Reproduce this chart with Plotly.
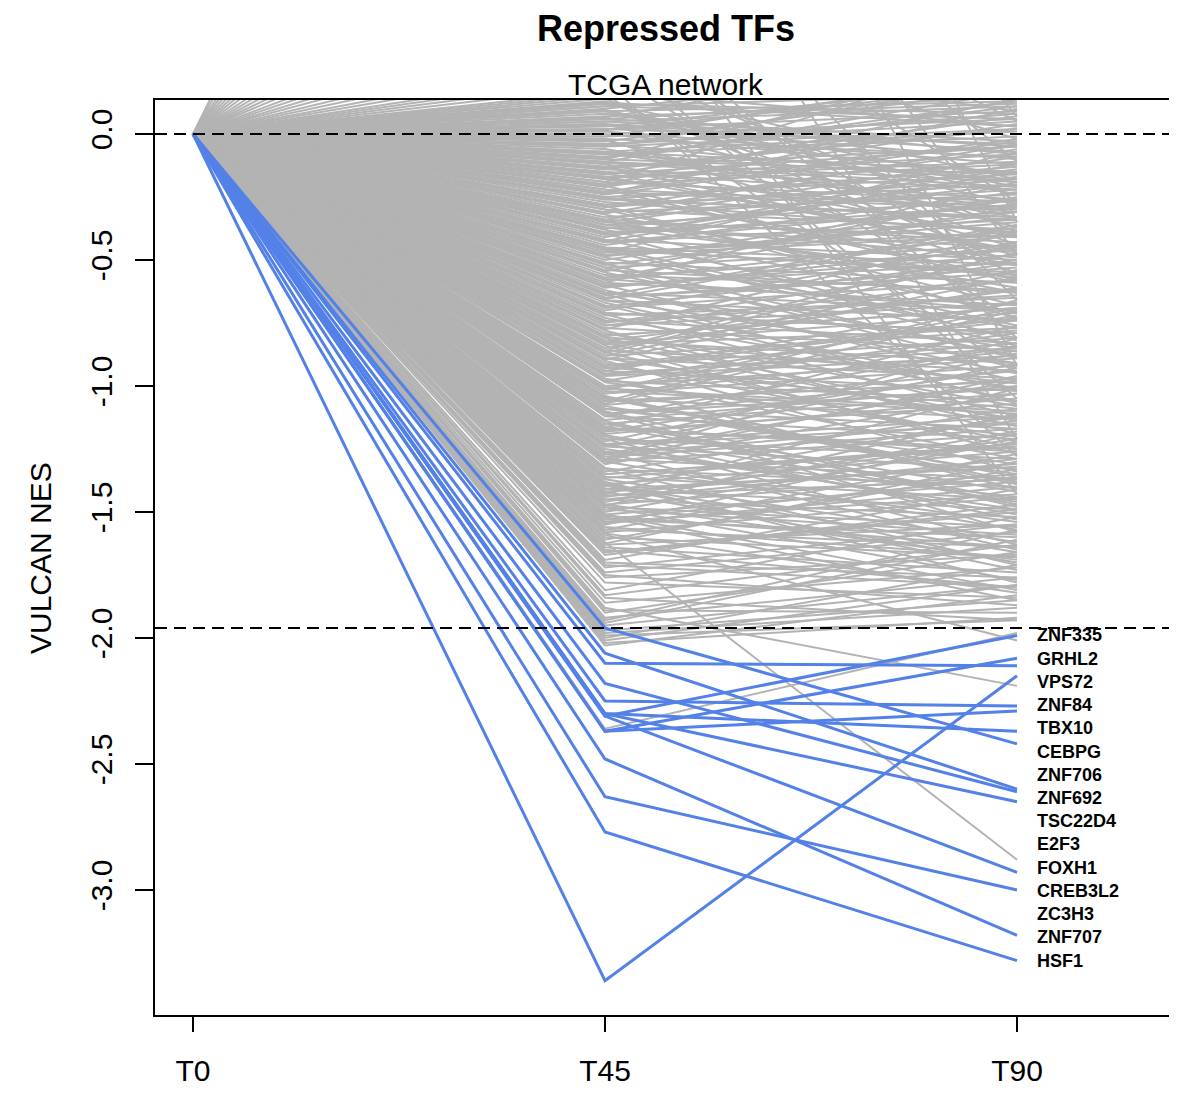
import numpy as np
import plotly.graph_objects as go

# ---------------- data ----------------
time_labels = ["T0", "T45", "T90"]

tf_names = ["ZNF335", "GRHL2", "VPS72", "ZNF84", "TBX10", "CEBPG", "ZNF706", "ZNF692",
            "TSC22D4", "E2F3", "FOXH1", "CREB3L2", "ZC3H3", "ZNF707", "HSF1"]
tf_t0 = [0.0] * 15
tf_t45 = [-2.31, -2.37, -2.10, -3.36, -2.25, -2.37, -2.30, -1.96,
          -2.06, -2.18, -2.30, -2.31, -2.63, -2.48, -2.77]
tf_t90 = [-1.99, -2.08, -2.11, -2.15, -2.27, -2.29, -2.37, -2.42,
          -2.60, -2.61, -2.65, -2.93, -3.00, -3.18, -3.28]

grey_t45 = [
    3.31, 2.87, 2.46, 2.18, 1.93, 1.71, 1.52, 1.36, 1.21, 1.07,
    0.96, 0.86, 0.77, 0.69, 0.61, 0.55, 0.49, 0.44, 0.39, 0.35,
    0.31, 0.28, 0.25, 0.23, 0.21, 0.19, 0.17, 0.16, 0.15, 0.14,
    0.12, -0.03, -0.17, -0.41, -0.62, -0.85, -1.04, -1.22, -1.37, -1.55,
    0.10, -0.06, -0.21, -0.38, -0.57, -0.79, -0.98, -1.16, -1.31, -1.48,
    0.08, -0.09, -0.25, -0.44, -0.66, -0.88, -1.09, -1.27, -1.42, -1.61,
    0.06, -0.12, -0.29, -0.49, -0.70, -0.91, -1.12, -1.30, -1.46, -1.66,
    0.04, -0.14, -0.32, -0.52, -0.73, -0.94, -1.15, -1.34, -1.51, -1.72,
    0.02, -0.15, -0.35, -0.55, -0.76, -0.97, -1.18, -1.39, -1.57, -1.78,
    0.00, -0.19, -0.36, -0.59, -0.81, -1.01, -1.20, -1.40, -1.59, -1.83,
    0.11, -0.02, -0.23, -0.46, -0.64, -0.83, -1.06, -1.25, -1.44, -1.64,
    0.09, -0.05, -0.27, -0.47, -0.68, -0.87, -1.08, -1.29, -1.49, -1.69,
    0.07, -0.08, -0.30, -0.50, -0.71, -0.90, -1.11, -1.33, -1.53, -1.75,
    0.05, -0.10, -0.33, -0.53, -0.75, -0.93, -1.14, -1.35, -1.56, -1.81,
    0.03, -0.13, -0.34, -0.56, -0.78, -0.96, -1.17, -1.38, -1.58, -1.86,
    0.01, -0.16, -0.37, -0.58, -0.80, -1.00, -1.19, -1.41, -1.62, -1.89,
    -0.01, -0.18, -0.40, -0.60, -0.82, -1.02, -1.21, -1.43, -1.63, -1.92,
    -0.04, -0.20, -0.42, -0.61, -0.84, -1.03, -1.23, -1.45, -1.65, -1.94,
    -0.07, -0.22, -0.43, -0.63, -0.86, -1.05, -1.24, -1.47, -1.67, -1.97,
    -0.11, -0.24, -0.45, -0.65, -0.89, -1.07, -1.26, -1.50, -1.70, -1.99,
    0.13, -0.26, -0.48, -0.67, -0.92, -1.10, -1.28, -1.52, -1.74, -2.01,
    0.125, 0.095, 0.065, 0.035, 0.015, -0.025, -0.045, -0.075, -0.095, -0.115,
    -0.135, -0.155, -0.175, -0.205, -0.235, -0.255, -0.285, -0.315, -0.345, -0.375,
    -0.395, -0.425, -0.455, -0.485, -0.515, -0.545, -0.575, -0.605, -0.635, -0.655,
    -0.685, -0.715, -0.745, -0.775, -0.805, -0.835, -0.865, -0.895, -0.925, -0.955,
    -0.985, -1.015, -1.045, -1.075, -1.105, -1.135, -1.165, -1.195, -1.235, -1.265,
    -1.295, -1.325, -1.365, -1.395, -1.435, -1.475, -1.515, -1.545, -1.585, -1.625,
    -1.88, -1.98, -2.00, -2.02, -2.03, -2.36, -1.90, -1.95, -1.84, -1.93,
    0.12, 0.05, -0.02, -0.08, -0.14, -0.20, -0.26, -0.31, -0.37, -0.43,
    -0.48, -0.54, -0.60, -0.66, -0.72, -0.77, -0.83, -0.89, -0.95, -1.01,
    -1.06, -1.12, -1.18, -1.24, -1.30, -1.36, -1.42, -1.48, -1.54, -1.60,
    0.09, 0.02, -0.05, -0.11, -0.17, -0.23, -0.29, -0.35, -0.40, -0.46,
    -0.51, -0.57, -0.63, -0.69, -0.74, -0.80, -0.86, -0.92, -0.98, -1.03,
    -1.09, -1.15, -1.21, -1.27, -1.33, -1.39, -1.45, -1.51, -1.57, -1.66,
    0.06, -0.01, -0.07, -0.13, -0.19, -0.25, -0.30, -0.36, -0.42, -0.47,
    -0.53, -0.59, -0.65, -0.71, -0.76, -0.82, -0.88, -0.94, -1.00, -1.05,
    -1.11, -1.17, -1.23, -1.29, -1.35, -1.41, -1.47, -1.53, -1.71, -1.76,
    0.11, 0.04, -0.04, -0.10, -0.16, -0.22, -0.28, -0.34, -0.39, -0.45,
]
grey_t90 = [
    0.42, -0.35, 0.18, -0.92, 0.07, -0.48, 0.25, -1.21, -0.11, 0.31,
    -0.66, 0.05, -0.27, -1.43, 0.14, -0.81, -0.02, 0.22, -0.57, -1.05,
    0.09, -0.39, -0.74, 0.16, -1.28, -0.18, 0.03, -0.95, 0.38, -0.52,
    -0.21, 0.18, -0.46, -0.12, -0.95, -0.61, -1.38, -0.87, -1.62, -1.19,
    0.27, -0.33, 0.04, -0.71, -0.29, -1.08, -0.72, -1.45, -1.03, -1.77,
    -0.08, 0.11, -0.52, -0.23, -0.91, -0.54, -1.31, -0.98, -1.70, -1.33,
    0.15, -0.41, -0.06, -0.77, -0.43, -1.22, -0.84, -1.57, -1.18, -1.49,
    -0.37, 0.02, -0.63, -0.31, -1.01, -0.67, -1.42, -1.09, -1.81, -1.55,
    0.09, -0.26, -0.14, -0.88, -0.58, -1.29, -0.93, -1.66, -1.27, -1.84,
    -0.16, 0.33, -0.49, -0.19, -1.14, -0.79, -1.53, -1.12, -2.01, -1.63,
    0.06, -0.55, -0.02, -0.84, -0.36, -1.16, -0.66, -1.49, -1.21, -1.74,
    -0.28, 0.21, -0.39, -0.07, -1.06, -0.47, -1.35, -0.81, -1.59, -1.41,
    0.12, -0.18, -0.68, -0.26, -0.79, -1.34, -0.97, -1.71, -1.36, -1.87,
    -0.05, 0.29, -0.22, -0.93, -0.51, -0.74, -1.47, -1.24, -1.68, -1.52,
    0.20, -0.48, -0.09, -0.62, -1.19, -0.88, -1.26, -1.78, -1.44, -1.72,
    -0.12, 0.07, -0.57, -0.40, -0.69, -1.41, -1.05, -1.32, -2.88, -1.90,
    0.24, -0.31, -0.17, -0.98, -0.62, -1.11, -1.63, -1.01, -1.55, -1.76,
    -0.19, 0.14, -0.76, -0.45, -1.27, -0.86, -1.51, -1.29, -1.80, -1.61,
    0.01, -0.59, -0.28, -0.85, -0.44, -1.36, -0.91, -1.69, -1.47, -1.85,
    0.17, -0.03, -0.81, -0.53, -1.13, -0.70, -1.44, -1.22, -1.76, -1.93,
    -0.44, -0.13, -0.35, -1.02, -0.73, -1.48, -1.17, -1.85, -1.58, -1.79,
    0.03, -0.24, 0.35, -0.10, 0.19, -0.45, 0.08, -0.30, 0.13, -0.21,
    0.02, -0.47, -0.11, -0.58, 0.10, -0.34, -0.73, -0.04, -0.61, -0.20,
    -0.82, -0.15, -0.56, -0.33, -0.89, -0.25, -0.70, -0.48, -1.07, -0.37,
    -0.50, -1.12, -0.64, -0.39, -0.99, -0.77, -1.25, -0.57, -1.09, -0.83,
    -1.20, -0.69, -1.39, -0.94, -1.58, -1.00, -0.76, -1.46, -1.15, -1.65,
    -0.96, -1.54, -1.23, -1.73, -1.37, -1.11, -1.64, -1.40, -1.82, -1.30,
    -2.19, -1.88, -1.71, -1.92, -1.83, -1.98, -1.66, -1.79, -1.93, -1.57,
    0.08, 0.11, -0.09, -0.01, -0.22, -0.12, -0.33, -0.24, -0.45, -0.34,
    -0.40, -0.63, -0.51, -0.74, -0.65, -0.86, -0.71, -0.97, -0.85, -1.10,
    -0.98, -1.21, -1.07, -1.33, -1.19, -1.45, -1.31, -1.56, -1.43, -1.68,
    0.13, -0.04, 0.02, -0.19, -0.08, -0.30, -0.18, -0.41, -0.28, -0.55,
    -0.59, -0.46, -0.70, -0.58, -0.83, -0.69, -0.94, -0.81, -1.06, -0.92,
    -1.17, -1.03, -1.29, -1.14, -1.40, -1.26, -1.52, -1.38, -1.64, -1.50,
    -0.03, 0.06, -0.15, -0.05, -0.27, -0.16, -0.38, -0.26, -0.50, -0.39,
    -0.44, -0.68, -0.55, -0.79, -0.67, -0.91, -0.78, -1.02, -0.89, -1.13,
    -1.01, -1.25, -1.12, -1.37, -1.23, -1.49, -1.35, -1.60, -1.80, -1.67,
    0.16, -0.07, 0.05, -0.16, -0.05, -0.29, -0.20, -0.43, -0.31, -0.52,
]

threshold = -1.96
y_ticks = [0.0, -0.5, -1.0, -1.5, -2.0, -2.5, -3.0]

# ---------------- figure ----------------
FONT = "Liberation Sans, Arial, Helvetica, sans-serif"
GREY = "#B3B3B3"
BLUE = "#5381E8"

fig = go.Figure()

gx, gy = [], []
for a, b in zip(grey_t45, grey_t90):
    gx += [0, 1, 2, None]
    gy += [0.0, a, b, None]
fig.add_trace(go.Scatter(x=gx, y=gy, mode="lines", line=dict(color=GREY, width=2),
                         hoverinfo="skip", showlegend=False))

for name, a0, a, b in zip(tf_names, tf_t0, tf_t45, tf_t90):
    fig.add_trace(go.Scatter(x=[0, 1, 2], y=[a0, a, b], mode="lines", name=name,
                             line=dict(color=BLUE, width=3), showlegend=False))

# labels, spread evenly between the extremes of the T90 values
order = np.argsort(tf_t90)[::-1]
label_y = np.linspace(max(tf_t90), min(tf_t90), len(tf_names))
for yy, idx in zip(label_y, order):
    fig.add_annotation(x=2.044, y=yy, xref="x", yref="y", text=f"<b>{tf_names[idx]}</b>",
                       showarrow=False, xanchor="left", yanchor="middle",
                       font=dict(family=FONT, size=18, color="black"))

for yv in [0.0, threshold]:
    fig.add_shape(type="line", xref="paper", yref="y", x0=0, x1=1, y0=yv, y1=yv,
                  line=dict(color="black", width=2, dash="12px,7px"), layer="above")

# the page body adds an 8px offset; the plot box runs past the right window edge
OFF = 8
W, H = 1177, 1099 - OFF
L, R, T, B = 155 - OFF, OFF, 100 - OFF, 84
pw, ph = W - L - R, H - T - B

fig.update_layout(
    width=W, height=H,
    margin=dict(l=L, r=R, t=T, b=B),
    paper_bgcolor="white", plot_bgcolor="white",
    font=dict(family=FONT, size=30, color="black"),
    showlegend=False,
    xaxis=dict(range=[-38 / 412, (1177 - 193) / 412], tickvals=[0, 1, 2], ticktext=time_labels,
               showgrid=False, zeroline=False, showline=True, linecolor="black", linewidth=1.5,
               mirror=True, ticks="outside", ticklen=15, tickwidth=1.5, tickcolor="black",
               ticklabelstandoff=13, tickfont=dict(size=30)),
    yaxis=dict(range=[(134 - 1015) / 252, (134 - 100) / 252], tickvals=y_ticks,
               ticktext=[f"{v:.1f}" for v in y_ticks], tickangle=-90,
               showgrid=False, zeroline=False, showline=True, linecolor="black", linewidth=1.5,
               mirror=False, ticks="outside", ticklen=18, tickwidth=1.5, tickcolor="black",
               ticklabelstandoff=11, tickfont=dict(size=30)),
)

fig.add_annotation(text="<b>Repressed TFs</b>", xref="paper", yref="paper",
                   x=(666 - 155) / pw, y=1 + (100 - 28) / ph, showarrow=False,
                   xanchor="center", yanchor="middle", font=dict(family=FONT, size=36))
fig.add_annotation(text="TCGA network", xref="paper", yref="paper",
                   x=(666 - 155) / pw, y=1 + (100 - 84) / ph, showarrow=False,
                   xanchor="center", yanchor="middle", font=dict(family=FONT, size=30))
fig.add_annotation(text="VULCAN NES", xref="paper", yref="paper", textangle=-90,
                   x=(40 - 155) / pw, y=(1015 - 558) / ph, showarrow=False,
                   xanchor="center", yanchor="middle", font=dict(family=FONT, size=30))

fig.write_html("out.html")
